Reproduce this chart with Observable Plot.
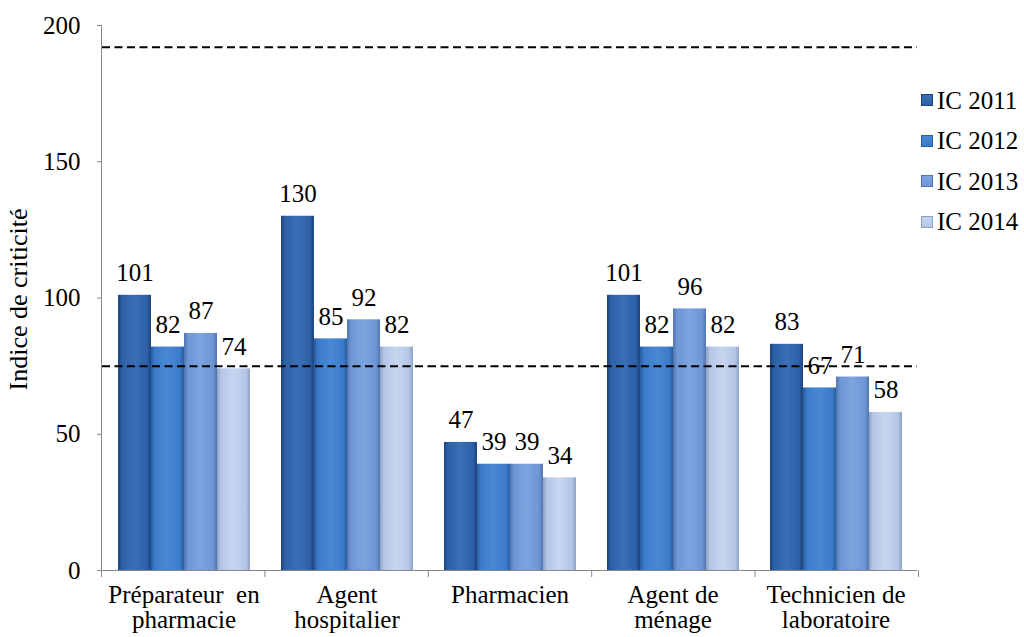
<!DOCTYPE html>
<html>
<head>
<meta charset="utf-8">
<script src="https://cdn.jsdelivr.net/npm/d3@7"></script>
<script src="https://cdn.jsdelivr.net/npm/@observablehq/plot@0.6"></script>
<style>
  body { margin: 0; background: #fff; }
  #wrap { position: relative; width: 1024px; height: 637px; font-family: "Liberation Serif", "Times New Roman", serif; }
  #wrap svg, #wrap svg text { font-family: "Liberation Serif", "Times New Roman", serif !important; }
  #legend { position: absolute; left: 921px; top: 80px; font-size: 25px; line-height: 1; color: #000; }
  #legend .item { display: flex; align-items: center; height: 40.5px; }
  #legend .sw { width: 12px; height: 12px; margin-right: 4px; box-sizing: border-box; }
</style>
</head>
<body>
<div id="wrap"></div>
<script>
const categories = ["Préparateur  en\npharmacie", "Agent\nhospitalier", "Pharmacien", "Agent de\nménage", "Technicien de\nlaboratoire"];
const series = ["IC 2011", "IC 2012", "IC 2013", "IC 2014"];
const ic2011 = [101, 130, 47, 101, 83];
const ic2012 = [82, 85, 39, 82, 67];
const ic2013 = [87, 92, 39, 96, 71];
const ic2014 = [74, 82, 34, 82, 58];
const thresholds = [192, 75];
const yTicks = [0, 50, 100, 150, 200];

const seriesValues = [ic2011, ic2012, ic2013, ic2014];
const data = [];
series.forEach((s, i) => categories.forEach((c, j) => data.push({category: c, series: s, value: seriesValues[i][j]})));

const FONT = "Liberation Serif, Times New Roman, serif";

// gradient colours per series: [edge, base, highlight]
const palette = [
  ["#1b4379", "#2d60a6", "#3a6fb6"],
  ["#295da1", "#3b7bc9", "#4988d3"],
  ["#5174ab", "#6e96d4", "#7da4de"],
  ["#8ea1c5", "#b4c6e7", "#c7d5ef"]
];

const barMarks = series.map((s, i) => Plot.barY(data.filter(d => d.series === s), {
  fx: "category", x: "series", y: "value",
  fill: `url(#grad${i})`
}));

const chart = Plot.plot({
  width: 1024,
  height: 637,
  marginLeft: 101,
  marginRight: 106,
  marginTop: 25,
  marginBottom: 67,
  style: { fontFamily: FONT, fontSize: "25px", background: "#fff", color: "#000" },
  fx: { domain: categories, padding: 0 },
  x: { domain: series, paddingInner: 0, paddingOuter: 0.4, axis: null },
  y: { domain: [0, 200] },
  marks: [
    Plot.axisY({ ticks: yTicks, tickSize: 5, tickPadding: 17, stroke: "#888", fill: "#000", fontSize: 25, fontFamily: FONT, label: null }),
    Plot.axisFx({ anchor: "bottom", tickSize: 0, tickPadding: 15, fontSize: 25, fontFamily: FONT, fill: "#000", lineHeight: 1.0, label: null }),
    ...barMarks,
    Plot.ruleY([0], { stroke: "#888", strokeWidth: 1 }),
    Plot.ruleY(thresholds, { stroke: "#000", strokeWidth: 2, strokeDasharray: "8,4.5" }),
    Plot.text(data, { fx: "category", x: "series", y: "value", text: d => String(d.value), lineAnchor: "bottom", dy: -14, fontSize: 25, fontFamily: FONT, fill: "#000" })
  ]
});

// gradients
const svg = d3.select(chart);
const defs = svg.insert("defs", ":first-child");
palette.forEach((p, i) => {
  const g = defs.append("linearGradient").attr("id", `grad${i}`).attr("x1", "0").attr("x2", "1").attr("y1", "0").attr("y2", "0");
  [[0, p[0]], [0.12, p[1]], [0.5, p[2]], [0.88, p[1]], [1, p[0]]].forEach(([o, c]) => g.append("stop").attr("offset", o).attr("stop-color", c));
});

// y axis line, y label and x boundary ticks, from the plot's scales
const ys = chart.scale("y");
const fxs = chart.scale("fx");
const fxBand = d3.scaleBand().domain(fxs.domain).range(fxs.range).paddingInner(fxs.paddingInner ?? 0).paddingOuter(fxs.paddingOuter ?? 0);
const yLin = d3.scaleLinear().domain(ys.domain).range(ys.range);
const g = svg.append("g").attr("stroke", "#888").attr("stroke-width", 1);
g.append("line").attr("x1", fxs.range[0] + 0.5).attr("x2", fxs.range[0] + 0.5).attr("y1", yLin(200)).attr("y2", yLin(0));
const bounds = fxBand.domain().map(d => fxBand(d)).concat([fxBand(fxBand.domain().at(-1)) + fxBand.bandwidth()]);
bounds.forEach(b => g.append("line").attr("x1", b + 0.5).attr("x2", b + 0.5).attr("y1", yLin(0)).attr("y2", yLin(0) + 7));
svg.append("text")
  .attr("transform", `translate(18,${(yLin(0) + yLin(200)) / 2 + 2}) rotate(-90)`)
  .attr("text-anchor", "middle").attr("dominant-baseline", "central")
  .attr("font-size", 26).attr("fill", "#000")
  .text("Indice de criticité");

const wrap = document.getElementById("wrap");
wrap.appendChild(chart);

// legend
const legend = document.createElement("div");
legend.id = "legend";
series.forEach((s, i) => {
  const item = document.createElement("div");
  item.className = "item";
  const sw = document.createElement("span");
  sw.className = "sw";
  sw.style.background = `linear-gradient(${palette[i][2]}, ${palette[i][1]})`;
  sw.style.border = `1px solid ${palette[i][0]}`;
  const t = document.createElement("span");
  t.textContent = s;
  item.appendChild(sw); item.appendChild(t);
  legend.appendChild(item);
});
wrap.appendChild(legend);
</script>
</body>
</html>
